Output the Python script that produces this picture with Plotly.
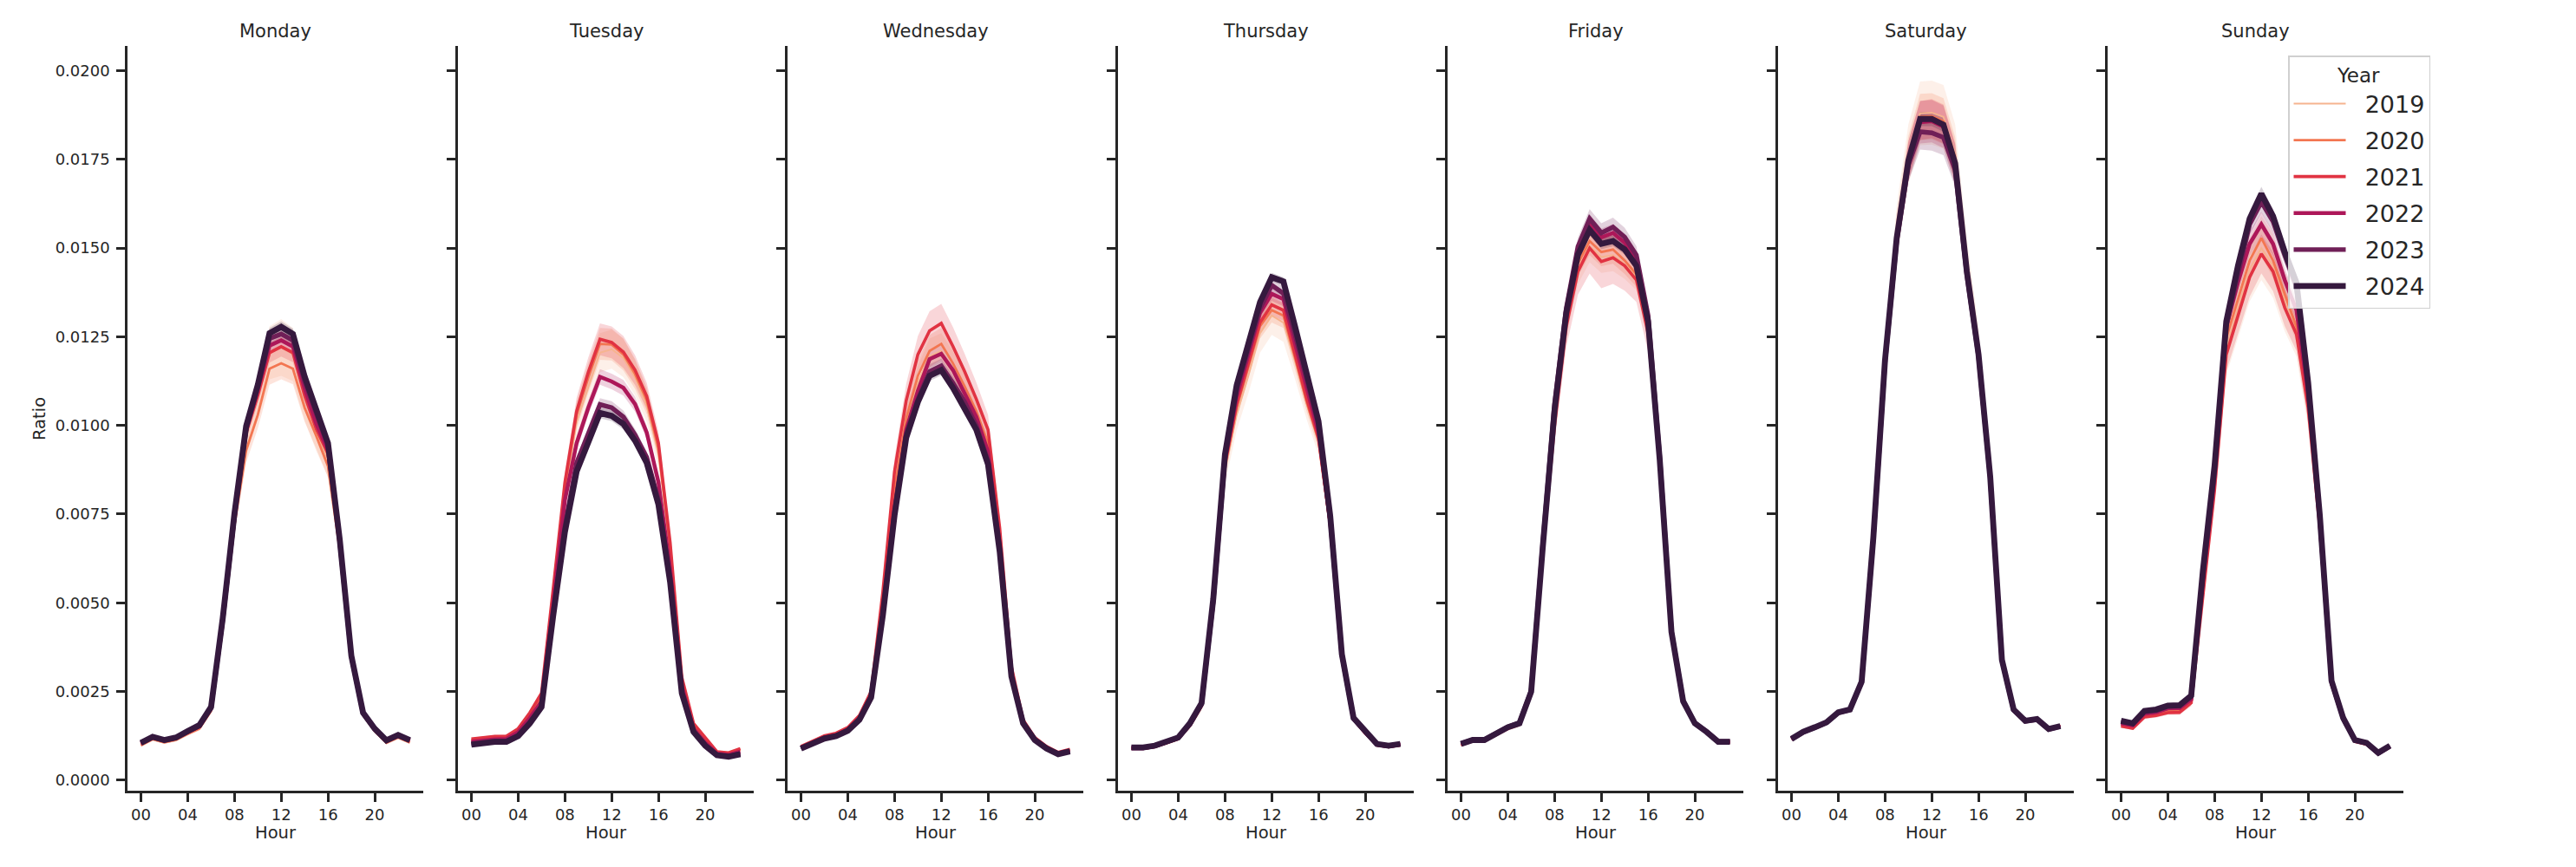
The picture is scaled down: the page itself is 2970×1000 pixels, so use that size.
import plotly.graph_objects as go

# ---------------- data (values in thousandths of "Ratio") ----------------
HOURS = list(range(24))
XTICK_VALS = [0, 4, 8, 12, 16, 20]
XTICK_TEXT = ["00", "04", "08", "12", "16", "20"]
YTICK_VALS = [0.0, 0.0025, 0.005, 0.0075, 0.01, 0.0125, 0.015, 0.0175, 0.02]
DAYS = ["Monday", "Tuesday", "Wednesday", "Thursday", "Friday", "Saturday", "Sunday"]
YEARS = ["2019", "2020", "2021", "2022", "2023", "2024"]
COLORS = ["#f6b48f", "#f37651", "#e13342", "#ad1759", "#701f57", "#35193e"]

# Monday means
MON_2019 = [1.00,1.17,1.08,1.15,1.32,1.48,1.98,4.40,7.30,9.70,10.80,12.05,12.20,12.00,10.80,9.85,9.05,6.60,3.40,1.85,1.40,1.07,1.22,1.08]
MON_2020 = [0.98,1.15,1.06,1.13,1.30,1.45,1.95,4.30,7.20,9.30,10.30,11.60,11.75,11.60,10.50,9.70,8.85,6.50,3.38,1.83,1.38,1.05,1.20,1.06]
MON_2021 = [1.02,1.19,1.10,1.17,1.34,1.50,2.00,4.45,7.35,9.80,10.85,12.05,12.22,12.05,10.85,9.90,9.20,6.65,3.43,1.87,1.42,1.09,1.24,1.10]
MON_2022 = [1.03,1.20,1.11,1.18,1.35,1.51,2.02,4.48,7.38,9.85,11.00,12.25,12.40,12.22,11.05,10.05,9.30,6.70,3.45,1.88,1.43,1.10,1.25,1.11]
MON_2023 = [1.04,1.21,1.12,1.19,1.37,1.53,2.04,4.52,7.45,9.90,11.10,12.45,12.58,12.40,11.25,10.30,9.42,6.75,3.48,1.89,1.44,1.11,1.26,1.12]
MON_2024 = [1.05,1.22,1.13,1.20,1.38,1.55,2.06,4.57,7.52,9.98,11.15,12.60,12.78,12.58,11.38,10.40,9.50,6.80,3.50,1.90,1.45,1.12,1.27,1.13]
# Monday CI half-widths
MON_CI_2019 = [0.05,0.05,0.05,0.05,0.06,0.07,0.08,0.20,0.35,0.55,0.62,0.75,0.80,0.75,0.65,0.58,0.50,0.30,0.12,0.06,0.05,0.05,0.05,0.05]
MON_CI_2020 = [0.04,0.04,0.04,0.04,0.05,0.06,0.07,0.15,0.25,0.35,0.38,0.45,0.45,0.44,0.40,0.36,0.32,0.20,0.09,0.05,0.04,0.04,0.04,0.04]
MON_CI_2021 = [0.04,0.04,0.04,0.04,0.05,0.05,0.06,0.12,0.18,0.22,0.24,0.28,0.28,0.27,0.24,0.22,0.19,0.13,0.07,0.05,0.04,0.04,0.04,0.04]
MON_CI_2022 = [0.03,0.03,0.03,0.03,0.04,0.05,0.06,0.10,0.14,0.17,0.18,0.22,0.22,0.22,0.19,0.17,0.15,0.11,0.06,0.04,0.03,0.03,0.03,0.03]
MON_CI_2023 = [0.03,0.03,0.03,0.03,0.04,0.04,0.05,0.09,0.12,0.14,0.15,0.18,0.18,0.18,0.16,0.15,0.13,0.10,0.06,0.04,0.03,0.03,0.03,0.03]
MON_CI_2024 = [0.03,0.03,0.03,0.03,0.04,0.04,0.05,0.08,0.10,0.12,0.12,0.15,0.15,0.15,0.13,0.12,0.11,0.09,0.05,0.04,0.03,0.03,0.03,0.03]

# Tuesday
TUE_2019 = [1.10,1.15,1.18,1.19,1.40,1.82,2.34,5.20,8.10,10.10,11.10,12.05,12.15,11.90,11.35,10.55,9.20,6.50,2.80,1.52,1.12,0.77,0.74,0.84]
TUE_2020 = [1.12,1.17,1.20,1.21,1.42,1.85,2.38,5.30,8.30,10.30,11.35,12.30,12.28,12.00,11.45,10.70,9.35,6.60,2.85,1.56,1.15,0.78,0.75,0.86]
TUE_2021 = [1.16,1.20,1.23,1.24,1.45,1.90,2.45,5.40,8.40,10.40,11.50,12.43,12.34,12.07,11.56,10.82,9.50,6.70,2.90,1.60,1.20,0.80,0.77,0.89]
TUE_2022 = [1.08,1.12,1.15,1.16,1.35,1.75,2.22,4.95,7.90,9.50,10.50,11.37,11.24,11.06,10.60,9.80,8.40,5.95,2.65,1.45,1.05,0.75,0.71,0.80]
TUE_2023 = [1.02,1.07,1.10,1.10,1.27,1.64,2.10,4.72,7.15,8.94,9.80,10.59,10.50,10.24,9.73,9.10,7.90,5.65,2.50,1.38,0.99,0.71,0.67,0.75]
TUE_2024 = [1.00,1.05,1.08,1.08,1.24,1.60,2.06,4.64,7.00,8.70,9.57,10.35,10.27,10.04,9.57,8.94,7.77,5.58,2.45,1.36,0.97,0.70,0.66,0.73]
TUE_CI_2019 = [0.05,0.05,0.05,0.05,0.06,0.08,0.10,0.24,0.36,0.46,0.50,0.55,0.55,0.54,0.50,0.46,0.40,0.26,0.12,0.06,0.05,0.04,0.04,0.04]
TUE_CI_2020 = [0.04,0.04,0.04,0.04,0.05,0.07,0.09,0.20,0.30,0.38,0.42,0.45,0.45,0.45,0.42,0.38,0.33,0.22,0.10,0.05,0.04,0.04,0.03,0.04]
TUE_CI_2021 = [0.04,0.04,0.04,0.04,0.05,0.07,0.09,0.20,0.30,0.38,0.42,0.45,0.45,0.45,0.42,0.38,0.33,0.22,0.10,0.05,0.04,0.04,0.03,0.04]
TUE_CI_2022 = [0.03,0.03,0.03,0.03,0.04,0.05,0.07,0.13,0.17,0.20,0.21,0.22,0.22,0.22,0.21,0.19,0.17,0.13,0.07,0.04,0.03,0.03,0.03,0.03]
TUE_CI_2023 = [0.03,0.03,0.03,0.03,0.04,0.05,0.06,0.11,0.14,0.16,0.17,0.18,0.18,0.18,0.17,0.16,0.14,0.11,0.06,0.04,0.03,0.03,0.03,0.03]
TUE_CI_2024 = [0.03,0.03,0.03,0.03,0.04,0.05,0.06,0.10,0.12,0.13,0.14,0.15,0.15,0.15,0.14,0.13,0.12,0.10,0.06,0.04,0.03,0.03,0.03,0.03]

# Wednesday
WED_2019 = [0.92,1.06,1.21,1.28,1.44,1.77,2.42,4.90,8.00,10.05,11.20,11.95,12.10,11.60,10.95,10.30,9.40,6.75,3.05,1.65,1.16,0.92,0.75,0.84]
WED_2020 = [0.93,1.07,1.22,1.29,1.45,1.78,2.44,5.00,8.20,10.20,11.40,12.10,12.30,11.75,11.10,10.40,9.50,6.85,3.10,1.66,1.17,0.93,0.76,0.85]
WED_2021 = [0.95,1.09,1.25,1.32,1.48,1.82,2.50,5.30,8.70,10.70,12.00,12.67,12.88,12.23,11.52,10.74,9.88,7.10,3.20,1.70,1.20,0.95,0.78,0.87]
WED_2022 = [0.91,1.05,1.20,1.27,1.42,1.75,2.38,4.75,7.70,9.88,10.98,11.87,12.02,11.56,10.90,10.24,9.26,6.65,3.00,1.63,1.15,0.91,0.75,0.83]
WED_2023 = [0.90,1.03,1.18,1.25,1.40,1.72,2.35,4.68,7.55,9.75,10.74,11.52,11.68,11.20,10.66,10.00,9.00,6.50,2.95,1.61,1.14,0.90,0.74,0.82]
WED_2024 = [0.89,1.02,1.17,1.24,1.39,1.70,2.33,4.64,7.46,9.65,10.66,11.40,11.56,11.06,10.50,9.88,8.90,6.44,2.92,1.60,1.13,0.89,0.73,0.81]
WED_CI_2019 = [0.04,0.04,0.05,0.05,0.06,0.07,0.10,0.23,0.35,0.43,0.47,0.50,0.50,0.49,0.46,0.43,0.38,0.25,0.11,0.05,0.04,0.04,0.03,0.04]
WED_CI_2020 = [0.04,0.04,0.04,0.05,0.05,0.07,0.09,0.21,0.32,0.39,0.43,0.45,0.45,0.44,0.41,0.38,0.34,0.23,0.10,0.05,0.04,0.04,0.03,0.04]
WED_CI_2021 = [0.04,0.04,0.05,0.05,0.06,0.07,0.10,0.25,0.38,0.47,0.52,0.55,0.55,0.54,0.50,0.47,0.42,0.28,0.12,0.06,0.04,0.04,0.03,0.04]
WED_CI_2022 = [0.03,0.03,0.04,0.04,0.04,0.05,0.07,0.13,0.17,0.21,0.23,0.25,0.25,0.24,0.23,0.21,0.19,0.13,0.07,0.04,0.03,0.03,0.03,0.03]
WED_CI_2023 = [0.03,0.03,0.03,0.03,0.04,0.05,0.06,0.11,0.14,0.17,0.18,0.20,0.20,0.19,0.18,0.17,0.15,0.11,0.06,0.04,0.03,0.03,0.03,0.03]
WED_CI_2024 = [0.03,0.03,0.03,0.03,0.04,0.05,0.06,0.09,0.11,0.13,0.14,0.15,0.15,0.14,0.14,0.13,0.12,0.09,0.05,0.04,0.03,0.03,0.03,0.03]

# Thursday
THU_2019 = [0.88,0.88,0.93,1.03,1.15,1.51,2.05,4.80,8.70,10.30,11.40,12.60,13.10,12.90,11.80,10.60,9.55,7.10,3.42,1.70,1.31,0.97,0.93,0.97]
THU_2020 = [0.89,0.89,0.94,1.04,1.16,1.53,2.08,4.88,8.85,10.50,11.65,12.80,13.25,13.10,11.90,10.65,9.58,7.15,3.45,1.71,1.32,0.98,0.94,0.98]
THU_2021 = [0.89,0.89,0.94,1.05,1.17,1.54,2.10,4.92,8.90,10.59,11.76,12.90,13.40,13.25,12.00,10.75,9.65,7.20,3.47,1.72,1.33,0.99,0.94,0.99]
THU_2022 = [0.90,0.90,0.95,1.06,1.18,1.56,2.12,4.98,9.00,10.80,12.00,13.17,13.71,13.56,12.30,11.00,9.80,7.30,3.50,1.73,1.34,1.00,0.95,1.00]
THU_2023 = [0.91,0.91,0.96,1.07,1.19,1.58,2.15,5.05,9.10,11.00,12.15,13.30,13.95,13.72,12.55,11.25,10.00,7.38,3.52,1.74,1.35,1.01,0.96,1.01]
THU_2024 = [0.92,0.92,0.97,1.08,1.20,1.60,2.17,5.11,9.18,11.13,12.31,13.48,14.18,14.06,12.78,11.45,10.12,7.46,3.55,1.75,1.36,1.02,0.97,1.02]
THU_CI_2019 = [0.04,0.04,0.04,0.04,0.05,0.07,0.10,0.25,0.36,0.44,0.50,0.55,0.55,0.54,0.50,0.44,0.38,0.25,0.10,0.05,0.04,0.04,0.04,0.04]
THU_CI_2020 = [0.03,0.03,0.03,0.04,0.05,0.06,0.08,0.16,0.23,0.28,0.32,0.35,0.35,0.35,0.32,0.28,0.25,0.16,0.08,0.04,0.03,0.03,0.03,0.03]
THU_CI_2021 = [0.03,0.03,0.03,0.04,0.04,0.05,0.07,0.14,0.20,0.24,0.27,0.30,0.30,0.30,0.27,0.24,0.21,0.14,0.07,0.04,0.03,0.03,0.03,0.03]
THU_CI_2022 = [0.03,0.03,0.03,0.03,0.04,0.05,0.06,0.10,0.14,0.16,0.18,0.20,0.20,0.20,0.18,0.16,0.14,0.10,0.06,0.04,0.03,0.03,0.03,0.03]
THU_CI_2023 = [0.03,0.03,0.03,0.03,0.04,0.05,0.06,0.10,0.14,0.16,0.18,0.20,0.20,0.20,0.18,0.16,0.14,0.10,0.06,0.04,0.03,0.03,0.03,0.03]
THU_CI_2024 = [0.03,0.03,0.03,0.03,0.04,0.04,0.05,0.07,0.09,0.10,0.11,0.12,0.12,0.12,0.11,0.10,0.09,0.07,0.05,0.03,0.03,0.03,0.03,0.03]

# Friday
FRI_2019 = [0.99,1.10,1.10,1.28,1.46,1.57,2.43,6.45,10.10,12.85,14.40,15.05,14.75,14.80,14.55,14.20,12.70,8.90,4.14,2.20,1.58,1.34,1.06,1.06]
FRI_2020 = [1.00,1.11,1.11,1.29,1.47,1.58,2.45,6.50,10.20,12.95,14.57,15.20,14.89,14.96,14.65,14.26,12.75,8.92,4.15,2.21,1.59,1.35,1.07,1.07]
FRI_2021 = [0.99,1.10,1.10,1.28,1.45,1.57,2.42,6.40,10.00,12.78,14.34,15.00,14.62,14.73,14.50,14.10,12.60,8.85,4.12,2.20,1.58,1.34,1.06,1.06]
FRI_2022 = [1.02,1.13,1.13,1.31,1.49,1.61,2.50,6.65,10.55,13.25,14.93,15.70,15.30,15.43,15.15,14.68,13.05,9.06,4.19,2.22,1.60,1.36,1.08,1.08]
FRI_2023 = [1.03,1.14,1.14,1.32,1.50,1.62,2.52,6.70,10.60,13.30,15.04,15.83,15.43,15.59,15.31,14.80,13.10,9.10,4.20,2.23,1.61,1.37,1.09,1.09]
FRI_2024 = [1.02,1.13,1.13,1.31,1.49,1.60,2.49,6.60,10.43,13.17,14.81,15.51,15.12,15.20,14.96,14.50,12.93,9.02,4.18,2.22,1.60,1.36,1.08,1.08]
FRI_CI_2019 = [0.04,0.04,0.04,0.04,0.05,0.06,0.09,0.20,0.30,0.37,0.41,0.45,0.45,0.45,0.42,0.39,0.34,0.22,0.09,0.05,0.04,0.04,0.04,0.04]
FRI_CI_2020 = [0.04,0.04,0.04,0.04,0.05,0.06,0.08,0.18,0.26,0.32,0.36,0.40,0.40,0.40,0.38,0.35,0.30,0.20,0.08,0.05,0.04,0.04,0.04,0.04]
FRI_CI_2021 = [0.04,0.04,0.04,0.05,0.06,0.07,0.10,0.30,0.46,0.58,0.65,0.72,0.75,0.74,0.70,0.62,0.52,0.32,0.12,0.06,0.04,0.04,0.04,0.04]
FRI_CI_2022 = [0.03,0.03,0.03,0.04,0.04,0.05,0.07,0.13,0.18,0.21,0.23,0.25,0.25,0.25,0.24,0.23,0.20,0.14,0.07,0.04,0.03,0.03,0.03,0.03]
FRI_CI_2023 = [0.03,0.03,0.03,0.04,0.04,0.05,0.07,0.14,0.19,0.23,0.25,0.27,0.27,0.27,0.26,0.25,0.22,0.15,0.07,0.04,0.03,0.03,0.03,0.03]
FRI_CI_2024 = [0.03,0.03,0.03,0.03,0.04,0.04,0.05,0.09,0.11,0.13,0.14,0.15,0.15,0.15,0.14,0.14,0.13,0.10,0.05,0.04,0.03,0.03,0.03,0.03]

# Saturday
SAT_2019 = [1.16,1.36,1.49,1.63,1.91,1.99,2.77,6.85,11.90,15.45,17.65,18.80,18.82,18.70,17.65,14.55,12.15,8.62,3.41,1.99,1.67,1.72,1.44,1.52]
SAT_2020 = [1.16,1.36,1.49,1.63,1.91,1.99,2.77,6.84,11.88,15.40,17.55,18.70,18.72,18.58,17.52,14.45,12.10,8.60,3.40,1.99,1.67,1.72,1.44,1.52]
SAT_2021 = [1.16,1.36,1.49,1.63,1.91,1.99,2.77,6.83,11.85,15.35,17.50,18.60,18.65,18.50,17.45,14.40,12.05,8.57,3.40,1.99,1.67,1.72,1.44,1.52]
SAT_2022 = [1.16,1.36,1.49,1.63,1.91,1.99,2.77,6.82,11.82,15.30,17.45,18.55,18.58,18.42,17.35,14.32,12.00,8.55,3.39,1.99,1.67,1.72,1.44,1.52]
SAT_2023 = [1.15,1.35,1.48,1.62,1.90,1.98,2.76,6.80,11.78,15.20,17.35,18.28,18.25,18.12,17.20,14.25,11.95,8.52,3.38,1.98,1.66,1.71,1.43,1.51]
SAT_2024 = [1.16,1.36,1.49,1.63,1.91,1.99,2.77,6.83,11.84,15.28,17.47,18.64,18.64,18.48,17.39,14.34,12.00,8.55,3.39,1.99,1.67,1.72,1.44,1.52]
SAT_CI_2019 = [0.04,0.04,0.05,0.05,0.06,0.07,0.11,0.38,0.60,0.75,0.84,0.90,0.90,0.90,0.84,0.72,0.60,0.40,0.13,0.06,0.05,0.05,0.04,0.04]
SAT_CI_2020 = [0.04,0.04,0.04,0.04,0.05,0.06,0.09,0.28,0.44,0.55,0.61,0.65,0.65,0.65,0.61,0.52,0.44,0.30,0.10,0.05,0.04,0.04,0.04,0.04]
SAT_CI_2021 = [0.03,0.03,0.04,0.04,0.05,0.05,0.08,0.24,0.37,0.46,0.51,0.55,0.55,0.55,0.51,0.44,0.37,0.26,0.09,0.05,0.04,0.04,0.03,0.03]
SAT_CI_2022 = [0.03,0.03,0.04,0.04,0.05,0.05,0.08,0.26,0.40,0.50,0.56,0.60,0.60,0.60,0.56,0.48,0.40,0.28,0.09,0.05,0.04,0.04,0.03,0.03]
SAT_CI_2023 = [0.03,0.03,0.03,0.04,0.04,0.05,0.07,0.22,0.33,0.42,0.47,0.50,0.50,0.50,0.47,0.40,0.34,0.24,0.08,0.04,0.03,0.03,0.03,0.03]
SAT_CI_2024 = [0.03,0.03,0.03,0.03,0.04,0.04,0.05,0.10,0.14,0.17,0.19,0.20,0.20,0.20,0.19,0.17,0.15,0.11,0.05,0.04,0.03,0.03,0.03,0.03]

# Sunday
SUN_2019 = [1.54,1.48,1.80,1.84,1.93,1.94,2.20,5.30,8.30,12.20,13.30,14.40,15.00,14.50,13.50,12.70,10.60,7.15,2.71,1.70,1.09,1.01,0.74,0.93]
SUN_2020 = [1.56,1.50,1.82,1.86,1.96,1.97,2.22,5.40,8.40,12.46,13.56,14.65,15.28,14.65,13.70,12.78,10.70,7.20,2.72,1.71,1.10,1.02,0.74,0.94]
SUN_2021 = [1.52,1.46,1.78,1.82,1.90,1.91,2.18,5.20,8.20,12.00,13.09,14.18,14.84,14.34,13.32,12.57,10.50,7.10,2.70,1.70,1.09,1.01,0.74,0.93]
SUN_2022 = [1.60,1.54,1.87,1.91,2.02,2.03,2.28,5.60,8.55,12.78,14.03,15.12,15.67,15.12,14.10,13.25,10.90,7.30,2.75,1.72,1.11,1.03,0.75,0.95]
SUN_2023 = [1.65,1.58,1.92,1.96,2.07,2.08,2.35,5.80,8.75,12.80,14.26,15.67,16.30,15.75,14.80,13.90,11.10,7.40,2.78,1.74,1.12,1.04,0.76,0.96]
SUN_2024 = [1.67,1.60,1.95,1.99,2.10,2.11,2.38,5.90,8.87,12.93,14.50,15.83,16.53,15.90,14.89,14.03,11.21,7.46,2.80,1.75,1.13,1.05,0.77,0.97]
SUN_CI_2019 = [0.06,0.06,0.07,0.07,0.08,0.08,0.11,0.40,0.62,0.78,0.85,0.90,0.90,0.90,0.85,0.76,0.65,0.42,0.14,0.06,0.05,0.05,0.04,0.04]
SUN_CI_2020 = [0.05,0.05,0.05,0.06,0.06,0.06,0.08,0.24,0.35,0.43,0.47,0.50,0.50,0.50,0.47,0.43,0.37,0.24,0.09,0.05,0.04,0.04,0.03,0.03]
SUN_CI_2021 = [0.05,0.05,0.06,0.06,0.06,0.07,0.09,0.26,0.38,0.47,0.52,0.55,0.55,0.55,0.52,0.47,0.40,0.26,0.10,0.05,0.04,0.04,0.03,0.03]
SUN_CI_2022 = [0.05,0.05,0.05,0.05,0.06,0.06,0.08,0.18,0.25,0.30,0.33,0.35,0.35,0.35,0.33,0.30,0.26,0.18,0.08,0.04,0.03,0.03,0.03,0.03]
SUN_CI_2023 = [0.04,0.04,0.05,0.05,0.05,0.05,0.07,0.16,0.21,0.26,0.28,0.30,0.30,0.30,0.28,0.26,0.23,0.16,0.07,0.04,0.03,0.03,0.03,0.03]
SUN_CI_2024 = [0.04,0.04,0.04,0.04,0.05,0.05,0.06,0.12,0.15,0.18,0.19,0.20,0.20,0.20,0.19,0.18,0.16,0.12,0.06,0.04,0.03,0.03,0.03,0.03]

UNIT = 1e-3  # the lists above are in thousandths

MEANS = {
    "Monday": [MON_2019, MON_2020, MON_2021, MON_2022, MON_2023, MON_2024],
    "Tuesday": [TUE_2019, TUE_2020, TUE_2021, TUE_2022, TUE_2023, TUE_2024],
    "Wednesday": [WED_2019, WED_2020, WED_2021, WED_2022, WED_2023, WED_2024],
    "Thursday": [THU_2019, THU_2020, THU_2021, THU_2022, THU_2023, THU_2024],
    "Friday": [FRI_2019, FRI_2020, FRI_2021, FRI_2022, FRI_2023, FRI_2024],
    "Saturday": [SAT_2019, SAT_2020, SAT_2021, SAT_2022, SAT_2023, SAT_2024],
    "Sunday": [SUN_2019, SUN_2020, SUN_2021, SUN_2022, SUN_2023, SUN_2024],
}
CIS = {
    "Monday": [MON_CI_2019, MON_CI_2020, MON_CI_2021, MON_CI_2022, MON_CI_2023, MON_CI_2024],
    "Tuesday": [TUE_CI_2019, TUE_CI_2020, TUE_CI_2021, TUE_CI_2022, TUE_CI_2023, TUE_CI_2024],
    "Wednesday": [WED_CI_2019, WED_CI_2020, WED_CI_2021, WED_CI_2022, WED_CI_2023, WED_CI_2024],
    "Thursday": [THU_CI_2019, THU_CI_2020, THU_CI_2021, THU_CI_2022, THU_CI_2023, THU_CI_2024],
    "Friday": [FRI_CI_2019, FRI_CI_2020, FRI_CI_2021, FRI_CI_2022, FRI_CI_2023, FRI_CI_2024],
    "Saturday": [SAT_CI_2019, SAT_CI_2020, SAT_CI_2021, SAT_CI_2022, SAT_CI_2023, SAT_CI_2024],
    "Sunday": [SUN_CI_2019, SUN_CI_2020, SUN_CI_2021, SUN_CI_2022, SUN_CI_2023, SUN_CI_2024],
}

# ---------------- styling ----------------
W, H = 2970, 1000
OFF = 8  # page body margin offsets the figure by this many pixels
FONT = "DejaVu Sans"
INK = "#262626"
LINE_WIDTHS = [2.0, 2.8, 3.6, 4.5, 5.4, 6.8]
PANEL_LEFT = [147, 528, 908, 1289, 1669, 2050, 2430]
PANEL_W = 341
Y_TOP, Y_BOTTOM = 53, 912
NBSP = "\u00a0"


def px_x(px):
    return (px - OFF) / W


def px_y(py):
    return 1 - (py - OFF) / H


def rgba(hexc, a):
    hexc = hexc.lstrip("#")
    r, g, b = int(hexc[0:2], 16), int(hexc[2:4], 16), int(hexc[4:6], 16)
    return f"rgba({r},{g},{b},{a})"


fig = go.Figure()

for d, day in enumerate(DAYS):
    xa = "x" if d == 0 else f"x{d+1}"
    ya = "y" if d == 0 else f"y{d+1}"
    # confidence bands first (below all lines)
    for k, year in enumerate(YEARS):
        m = [v * UNIT for v in MEANS[day][k]]
        c = [v * UNIT for v in CIS[day][k]]
        hi = [a + b for a, b in zip(m, c)]
        lo = [a - b for a, b in zip(m, c)]
        fig.add_trace(go.Scatter(
            x=HOURS + HOURS[::-1], y=hi + lo[::-1], xaxis=xa, yaxis=ya,
            fill="toself", fillcolor=rgba(COLORS[k], 0.2),
            line=dict(width=0), mode="lines", hoverinfo="skip",
            showlegend=False, legendgroup=year))
    for k, year in enumerate(YEARS):
        m = [v * UNIT for v in MEANS[day][k]]
        fig.add_trace(go.Scatter(
            x=HOURS, y=m, xaxis=xa, yaxis=ya, mode="lines", name=NBSP * 2 + year,
            line=dict(color=COLORS[k], width=LINE_WIDTHS[k]),
            legendgroup=year, showlegend=(d == 0)))

layout = dict(
    width=W, height=H, margin=dict(l=0, r=0, t=0, b=0),
    paper_bgcolor="white", plot_bgcolor="white",
    font=dict(family=FONT, color=INK, size=18),
    showlegend=True,
    legend=dict(
        x=px_x(2638), y=px_y(64), xanchor="left", yanchor="top",
        bgcolor="rgba(255,255,255,0.8)", bordercolor="#d0d0d0", borderwidth=1.5,
        font=dict(size=27, family=FONT, color=INK),
        title=dict(text="Year", side="top center", font=dict(size=23, family=FONT, color=INK)),
        tracegroupgap=4, itemwidth=60,
    ),
    annotations=[],
)

yb = px_y(Y_BOTTOM)
yt = px_y(Y_TOP)
for d, day in enumerate(DAYS):
    x0 = px_x(PANEL_LEFT[d])
    x1 = px_x(PANEL_LEFT[d] + PANEL_W)
    xkey = "xaxis" if d == 0 else f"xaxis{d+1}"
    ykey = "yaxis" if d == 0 else f"yaxis{d+1}"
    anchor_y = "y" if d == 0 else f"y{d+1}"
    anchor_x = "x" if d == 0 else f"x{d+1}"
    layout[xkey] = dict(
        domain=[x0, x1], anchor=anchor_y, range=[-1.15, 24.15],
        tickvals=XTICK_VALS, ticktext=XTICK_TEXT, ticks="outside",
        ticklen=10, tickwidth=2.5, tickcolor=INK,
        showline=True, linecolor=INK, linewidth=2.5,
        showgrid=False, zeroline=False,
        tickfont=dict(size=18, family=FONT, color=INK),
    )
    layout[ykey] = dict(
        domain=[yb, yt], anchor=anchor_x, range=[-0.0003, 0.0207],
        tickvals=YTICK_VALS, tickformat=".4f", ticks="outside",
        ticklen=10, tickwidth=2.5, tickcolor=INK,
        showline=True, linecolor=INK, linewidth=2.5,
        showgrid=False, zeroline=False, showticklabels=(d == 0),
        tickfont=dict(size=18, family=FONT, color=INK),
        ticklabelstandoff=4,
    )
    cx = px_x(PANEL_LEFT[d] + PANEL_W / 2)
    layout["annotations"].append(dict(
        text=day, x=cx, y=px_y(36), xref="paper", yref="paper",
        xanchor="center", yanchor="middle", showarrow=False,
        font=dict(size=21, family=FONT, color=INK)))
    layout["annotations"].append(dict(
        text="Hour", x=cx, y=px_y(960), xref="paper", yref="paper",
        xanchor="center", yanchor="middle", showarrow=False,
        font=dict(size=19.5, family=FONT, color=INK)))

layout["annotations"].append(dict(
    text="Ratio", x=px_x(45), y=px_y(483), xref="paper", yref="paper",
    xanchor="center", yanchor="middle", showarrow=False, textangle=-90,
    font=dict(size=19.5, family=FONT, color=INK)))

fig.update_layout(**layout)
fig.write_html("out.html")
